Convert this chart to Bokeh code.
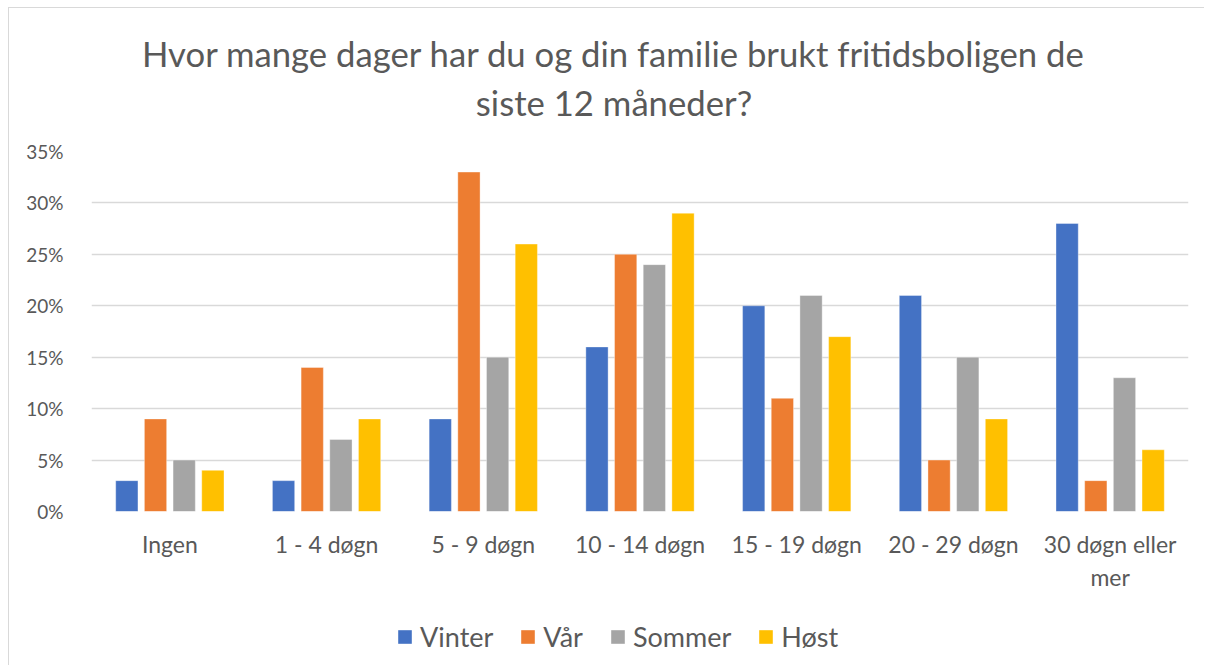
from bokeh.plotting import figure
from bokeh.layouts import column
from bokeh.models import ColumnDataSource, FixedTicker, Legend, LegendItem, Range1d, Label
from bokeh.embed import file_html
from bokeh.resources import INLINE

categories = ["Ingen", "1 - 4 døgn", "5 - 9 døgn", "10 - 14 døgn", "15 - 19 døgn", "20 - 29 døgn", "30 døgn eller\nmer"]
series = ["Vinter", "Vår", "Sommer", "Høst"]
vinter = [3, 3, 9, 16, 20, 21, 28]
vaar = [9, 14, 33, 25, 11, 5, 3]
sommer = [5, 7, 15, 24, 21, 15, 13]
host = [4, 9, 26, 29, 17, 9, 6]
colors = ["#4472C4", "#ED7D31", "#A5A5A5", "#FFC000"]
y_ticks = [0, 5, 10, 15, 20, 25, 30, 35]
title_lines = ["Hvor mange dager har du og din familie brukt fritidsboligen de", "siste 12 måneder?"]

FONT = "Lato"
TXT = "#595959"
W = 1195
FL, FR = 82, 16  # frame insets shared by the column

# ---- header (title) ----
h = figure(width=W, height=128, output_backend="svg", toolbar_location=None,
           x_range=Range1d(FL, W - FR), y_range=Range1d(0, 113), x_axis_type=None, y_axis_type=None,
           min_border=0)
h.outline_line_color = None
h.background_fill_color = "white"
h.border_fill_color = "white"
for txt, yy in zip(title_lines, [73, 30]):
    h.add_layout(Label(x=604.5, y=yy, text=txt, text_align="center", text_baseline="alphabetic",
                       text_font=FONT, text_font_size="34.7px", text_color=TXT))

# ---- main chart ----
p = figure(width=W, height=470, output_backend="svg", toolbar_location=None,
           x_range=Range1d(0, len(categories)), y_range=Range1d(0, 35),
           min_border_left=FL, min_border_right=FR, min_border_top=15, min_border_bottom=95)
p.outline_line_color = None
p.background_fill_color = "white"
p.border_fill_color = "white"

pitch = 0.183
bw = 0.142
all_vals = [vinter, vaar, sommer, host]
for i, vals in enumerate(all_vals):
    xs = [k + 0.5 + (i - 1.5) * pitch for k in range(len(categories))]
    src = ColumnDataSource(dict(x=xs, top=vals))
    p.vbar(x="x", top="top", bottom=0, width=bw, source=src,
           fill_color=colors[i], line_color="white", line_width=0.6, line_alpha=0.6)

p.xaxis.ticker = FixedTicker(ticks=[k + 0.5 for k in range(len(categories))])
p.xaxis.major_label_overrides = {k + 0.5: c for k, c in enumerate(categories)}
p.xaxis.axis_line_color = None
p.xaxis.major_tick_line_color = None
p.xaxis.minor_tick_line_color = None
p.xaxis.major_label_text_font = FONT
p.xaxis.major_label_text_font_size = "23px"
p.xaxis.major_label_text_color = TXT
p.xaxis.major_label_standoff = 12

p.yaxis.ticker = FixedTicker(ticks=y_ticks)
p.yaxis.major_label_overrides = {t: f"{t}%" for t in y_ticks}
p.yaxis.axis_line_color = None
p.yaxis.major_tick_line_color = None
p.yaxis.minor_tick_line_color = None
p.yaxis.major_label_text_font = FONT
p.yaxis.major_label_text_font_size = "19px"
p.yaxis.major_label_text_color = TXT
p.yaxis.major_label_standoff = 22

p.xgrid.grid_line_color = None
p.ygrid.ticker = FixedTicker(ticks=y_ticks)
p.ygrid.grid_line_color = "#d9d9d9"
p.ygrid.grid_line_width = 1.5

# ---- legend strip (series bars drawn out of view; only the legend shows) ----
q = figure(width=W, height=59, output_backend="svg", toolbar_location=None,
           x_range=Range1d(0, len(categories)), y_range=Range1d(100, 101),
           x_axis_type=None, y_axis_type=None, min_border=0)
q.outline_line_color = None
q.background_fill_color = "white"
q.border_fill_color = "white"
items = []
for name, c, vals in zip(series, colors, all_vals):
    xs = [k + 0.5 for k in range(len(categories))]
    r = q.vbar(x=xs, top=vals, bottom=0, width=0.1, fill_color=c, line_color=None)
    items.append(LegendItem(label=name, renderers=[r]))
legend = Legend(items=items, orientation="horizontal", location=(305, 12),
                label_text_font=FONT, label_text_font_size="27px", label_text_color=TXT,
                glyph_width=17, glyph_height=17, label_standoff=7, spacing=26,
                padding=0, margin=0, border_line_color=None, background_fill_alpha=0)
q.add_layout(legend, "center")

layout = column(h, p, q, spacing=0)
layout.styles = {"margin": "7px 0 0 8px", "border-left": "1px solid #d9d9d9", "border-top": "1px solid #d9d9d9"}

open("out.html", "w").write(file_html(layout, INLINE))
